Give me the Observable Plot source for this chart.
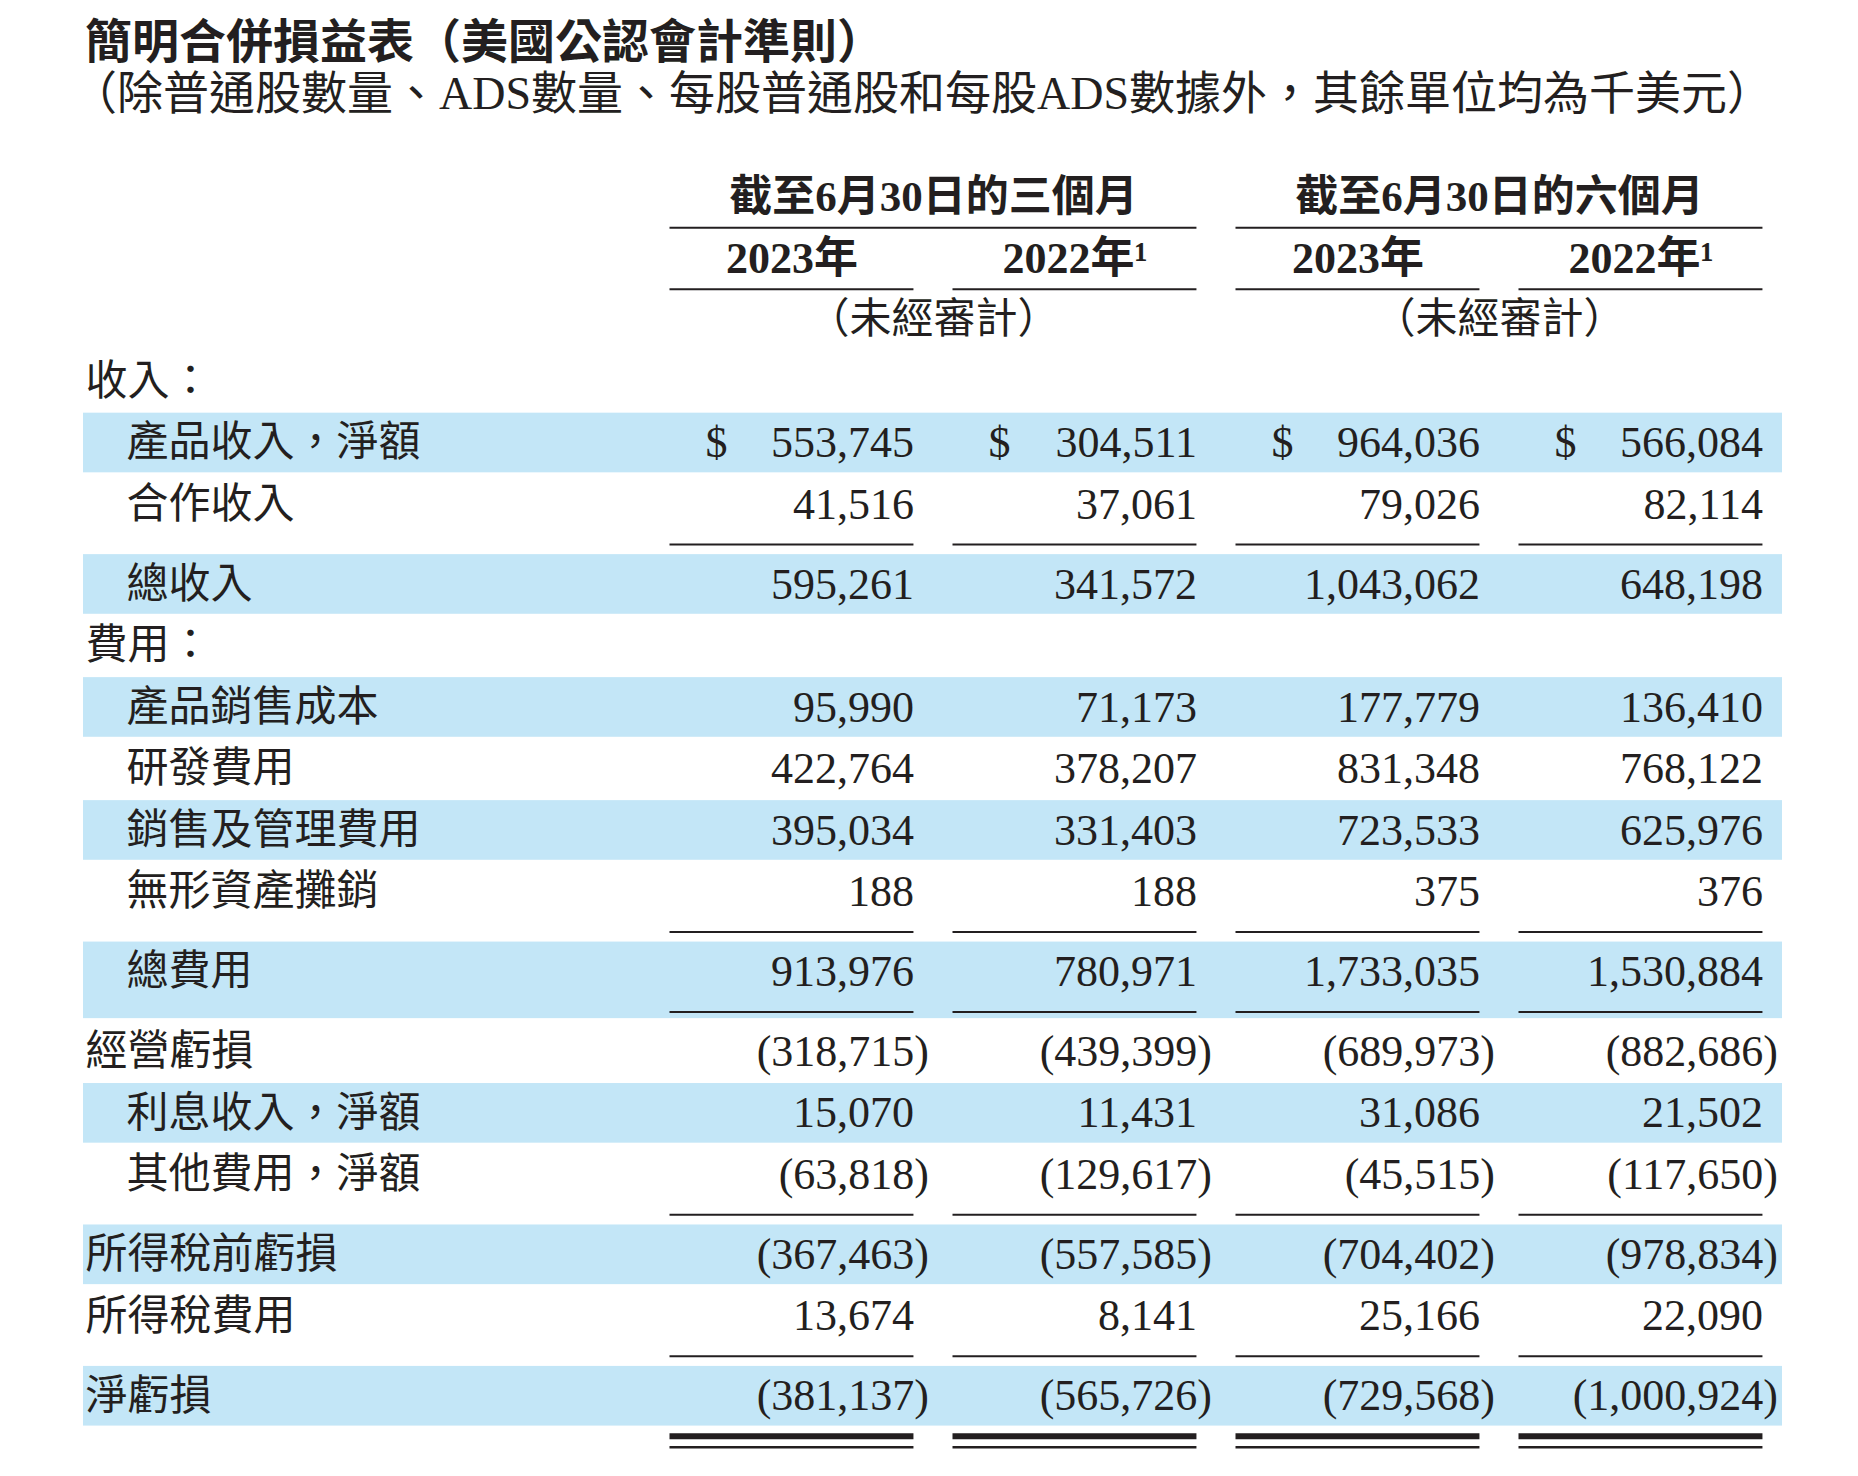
<!DOCTYPE html>
<html><head><meta charset="utf-8">
<script src="https://cdn.jsdelivr.net/npm/d3@7"></script>
<script src="https://cdn.jsdelivr.net/npm/@observablehq/plot@0.6"></script>
<style>
body{margin:0;background:#fff;font-family:"Liberation Serif","Noto Sans CJK TC",serif;color:#231f20;}
#head{height:120px;padding-left:85px;box-sizing:border-box;padding-top:17px;}
#title{font-size:47px;font-weight:bold;line-height:51px;white-space:nowrap;}
#subtitle{font-size:46px;line-height:51px;white-space:nowrap;text-indent:-14px;}
#chart svg{display:block;}
</style></head><body>
<div id="head"><div id="title"></div><div id="subtitle"></div></div>
<div id="chart"></div>
<script>
// ---------- data ----------
const title = "簡明合併損益表（美國公認會計準則）";
const subtitle = "（除普通股數量、ADS數量、每股普通股和每股ADS數據外，其餘單位均為千美元）";
const periodHeaders = ["截至6月30日的三個月", "截至6月30日的六個月"];
const yearHeaders = ["2023年", "2022年¹", "2023年", "2022年¹"];
const auditNote = "（未經審計）";
const sectionLabels = ["收入：", "費用："];
const rowLabels = ["產品收入，淨額", "合作收入", "總收入", "產品銷售成本", "研發費用", "銷售及管理費用", "無形資產攤銷", "總費用", "經營虧損", "利息收入，淨額", "其他費用，淨額", "所得稅前虧損", "所得稅費用", "淨虧損"];
const q2_2023 = [553745, 41516, 595261, 95990, 422764, 395034, 188, 913976, -318715, 15070, -63818, -367463, 13674, -381137];
const q2_2022 = [304511, 37061, 341572, 71173, 378207, 331403, 188, 780971, -439399, 11431, -129617, -557585, 8141, -565726];
const h1_2023 = [964036, 79026, 1043062, 177779, 831348, 723533, 375, 1733035, -689973, 31086, -45515, -704402, 25166, -729568];
const h1_2022 = [566084, 82114, 648198, 136410, 768122, 625976, 376, 1530884, -882686, 21502, -117650, -978834, 22090, -1000924];
const series = [q2_2023, q2_2022, h1_2023, h1_2022];

// ---------- layout (structure only) ----------
const layout = [
  {kind: "section", s: 0},
  {kind: "row", i: 0, band: "std", indent: true, dollar: true},
  {kind: "row", i: 1, indent: true},
  {kind: "rule"},
  {kind: "row", i: 2, band: "std", indent: true},
  {kind: "section", s: 1},
  {kind: "row", i: 3, band: "std", indent: true},
  {kind: "row", i: 4, indent: true},
  {kind: "row", i: 5, band: "std", indent: true},
  {kind: "row", i: 6, indent: true},
  {kind: "rule"},
  {kind: "row", i: 7, band: "tall", indent: true},
  {kind: "rule"},
  {kind: "row", i: 8},
  {kind: "row", i: 9, band: "std", indent: true},
  {kind: "row", i: 10, indent: true},
  {kind: "rule"},
  {kind: "row", i: 11, band: "std"},
  {kind: "row", i: 12},
  {kind: "rule"},
  {kind: "row", i: 13, band: "std"},
  {kind: "double"}
];
let t = 0;
for (const item of layout) {
  if (item.kind === "rule" || item.kind === "double") { item.t = t - 0.35; t += 0.3; }
  else { item.t = t; t += 1; }
}
const colW = 0.862;
const cols = [0, 1, 2, 3];
const textRows = layout.filter(d => d.kind === "row");
const cells = textRows.flatMap(r => cols.map(c => ({c, t: r.t, v: series[c][r.i]})));
const bands = textRows.filter(r => r.band).map(r => {
  const next = layout[layout.indexOf(r) + 1];
  return {y1: r.t - 0.485, y2: r.band === "tall" ? next.t + 0.11 : r.t + 0.485};
});
const rules = layout.filter(d => d.kind === "rule").flatMap(r => cols.map(c => ({c, t: r.t})));
const doubles = layout.filter(d => d.kind === "double").flatMap(r => cols.map(c => ({c, t: r.t})));
const fmt = d3.format(",");
const ink = "#231f20";
const bandFill = "#c3e6f7";

document.getElementById("title").textContent = title;
document.getElementById("subtitle").textContent = subtitle;

const W = 1858, H = 1356;
const yDomain = [-3.5, 17.6];
const yZero = 261, yUnit = 61.5;

const plot = Plot.plot({
  width: W, height: H,
  marginLeft: 83, marginRight: 76, marginTop: 0, marginBottom: 0,
  x: {domain: [0, 4], range: [669.5, 669.5 + 283 * 4], axis: null},
  y: {domain: yDomain, range: yDomain.map(v => yZero + yUnit * v), axis: null},
  style: {fontFamily: '"Liberation Serif","Noto Sans CJK TC",serif', color: ink, background: "#fff"},
  marks: [
    Plot.rect(bands, {y1: "y1", y2: "y2", fill: bandFill}),
    // column headers
    Plot.text(periodHeaders, {x: (d, i) => 2 * i + (1 + colW) / 2, y: () => -3, text: d => d, fontSize: 43, fontWeight: "bold", fill: ink}),
    Plot.ruleY(periodHeaders, {x1: (d, i) => 2 * i, x2: (d, i) => 2 * i + 1 + colW, y: () => -2.5, stroke: ink, strokeWidth: 2}),
    Plot.text(yearHeaders, {x: (d, i) => i + colW / 2, y: () => -2, text: d => d, fontSize: 44, fontWeight: "bold", fill: ink}),
    Plot.ruleY(yearHeaders, {x1: (d, i) => i, x2: (d, i) => i + colW, y: () => -1.5, stroke: ink, strokeWidth: 2}),
    Plot.text(periodHeaders, {x: (d, i) => 2 * i + (1 + colW) / 2, y: () => -1, text: () => auditNote, fontSize: 42, fill: ink}),
    // row labels
    Plot.text(layout.filter(d => d.kind === "section"), {frameAnchor: "left", y: "t", text: d => sectionLabels[d.s], textAnchor: "start", dx: 2, fontSize: 42, fill: ink}),
    Plot.text(textRows.filter(d => !d.indent), {frameAnchor: "left", y: "t", text: d => rowLabels[d.i], textAnchor: "start", dx: 2, fontSize: 42, fill: ink}),
    Plot.text(textRows.filter(d => d.indent), {frameAnchor: "left", y: "t", text: d => rowLabels[d.i], textAnchor: "start", dx: 43, fontSize: 42, fill: ink}),
    // dollar signs
    Plot.text(textRows.filter(d => d.dollar).flatMap(r => cols.map(c => ({c, t: r.t}))), {x: d => d.c + 0.164, y: "t", text: () => "$", fontSize: 44, fill: ink}),
    // values
    Plot.text(cells.filter(d => d.v >= 0), {x: d => d.c + colW, y: "t", text: d => fmt(d.v), textAnchor: "end", fontSize: 44, fill: ink}),
    Plot.text(cells.filter(d => d.v < 0), {x: d => d.c + colW, y: "t", text: d => "(" + fmt(-d.v) + ")", textAnchor: "end", dx: 15, fontSize: 44, fill: ink}),
    // underlines
    Plot.ruleY(rules, {x1: "c", x2: d => d.c + colW, y: "t", stroke: ink, strokeWidth: 2}),
    Plot.ruleY(doubles, {x1: "c", x2: d => d.c + colW, y: "t", stroke: ink, strokeWidth: 6}),
    Plot.ruleY(doubles, {x1: "c", x2: d => d.c + colW, y: d => d.t + 0.18, stroke: ink, strokeWidth: 2.5})
  ]
});
document.getElementById("chart").appendChild(plot);
</script>
</body></html>
